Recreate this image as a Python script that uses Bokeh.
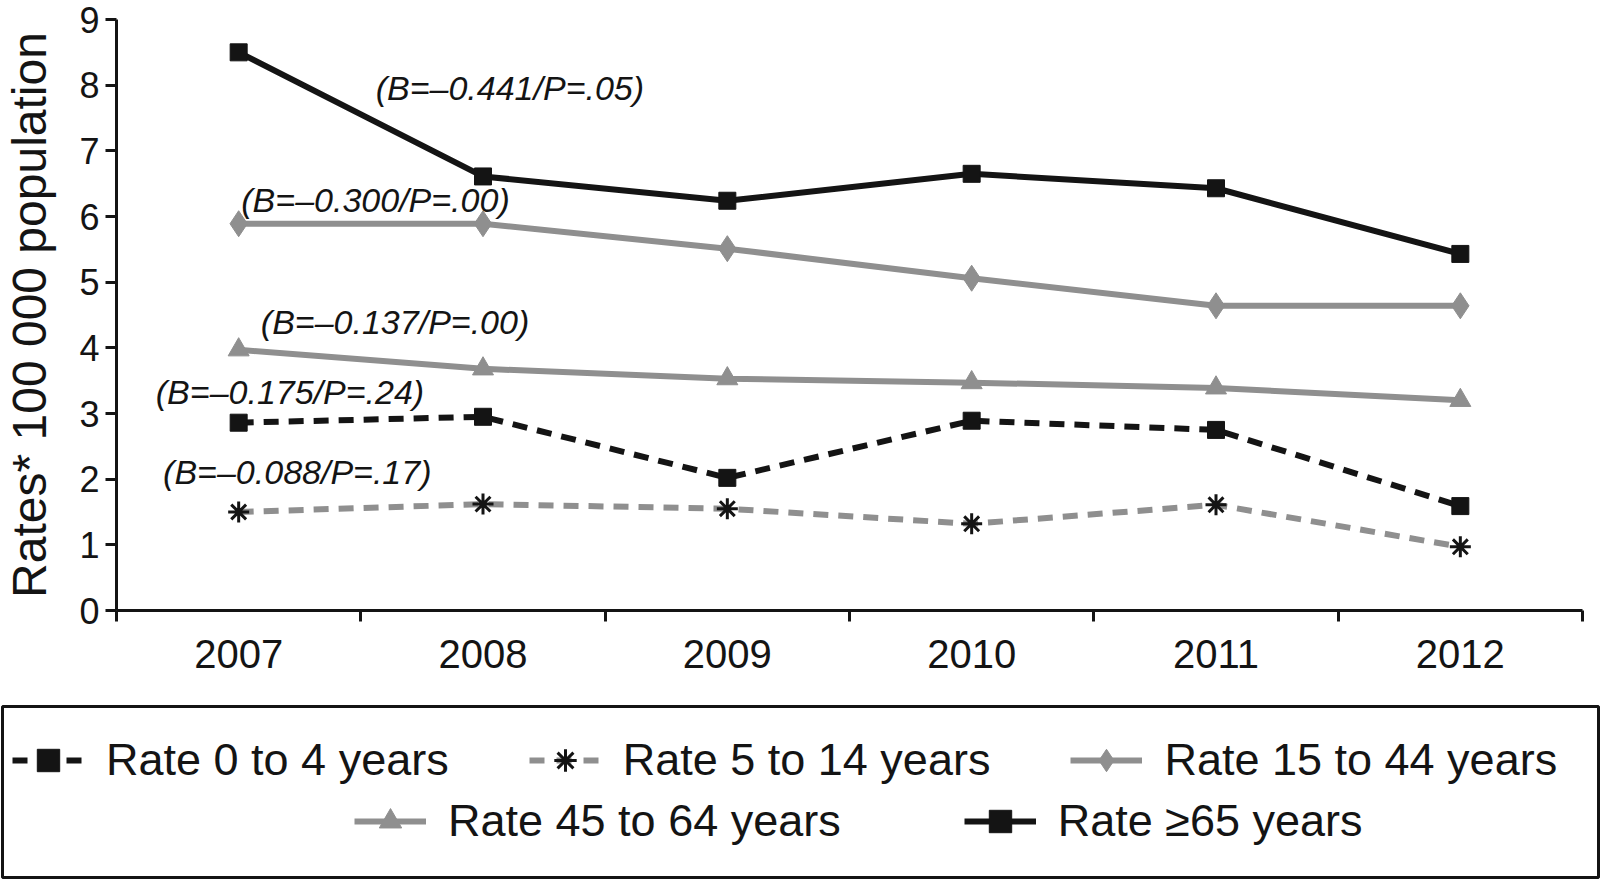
from bokeh.plotting import figure
from bokeh.models import ColumnDataSource, Range1d, FixedTicker, Legend, LegendItem
from bokeh.layouts import column, row
from bokeh.core.properties import value
from bokeh.embed import file_html
from bokeh.resources import INLINE

# ---------------- data ----------------
years = [2007, 2008, 2009, 2010, 2011, 2012]
year_labels = ["2007", "2008", "2009", "2010", "2011", "2012"]
rate_0_4 = [2.86, 2.95, 2.02, 2.89, 2.75, 1.59]
rate_5_14 = [1.50, 1.62, 1.55, 1.32, 1.61, 0.97]
rate_15_44 = [5.89, 5.89, 5.51, 5.06, 4.64, 4.64]
rate_45_64 = [3.97, 3.68, 3.53, 3.47, 3.39, 3.20]
rate_65 = [8.50, 6.61, 6.24, 6.65, 6.43, 5.43]

series_names = ["Rate 0 to 4 years", "Rate 5 to 14 years", "Rate 15 to 44 years",
                "Rate 45 to 64 years", "Rate \u226565 years"]

ann_text = ["(B=\u20130.441/P=.05)", "(B=\u20130.300/P=.00)", "(B=\u20130.137/P=.00)",
            "(B=\u20130.175/P=.24)", "(B=\u20130.088/P=.17)"]
ann_x = [2008.11, 2007.56, 2007.64, 2007.21, 2007.24]
ann_y = [7.95, 6.25, 4.39, 3.33, 2.11]

y_ticks = [0, 1, 2, 3, 4, 5, 6, 7, 8, 9]
y_title = "Rates* 100 000 population"

# ---------------- style ----------------
BLACK = "#141414"
GRAY = "#8f8f8f"
FONT = "Liberation Sans"
DASH = "15 10"
LW = 6

PAGE_W = 1600
FRAME_L, FRAME_R, FRAME_T, FRAME_B = 122, 1590, 27, 618
MAIN_H = 704

p = figure(width=PAGE_W, height=MAIN_H,
           x_range=Range1d(years[0] - 0.5, years[-1] + 0.5), y_range=Range1d(y_ticks[0], y_ticks[-1]),
           output_backend="svg", toolbar_location=None,
           min_border_left=FRAME_L - 8, min_border_right=PAGE_W + 8 - FRAME_R,
           min_border_top=FRAME_T - 8, min_border_bottom=MAIN_H - (FRAME_B - 8))
p.outline_line_color = None
p.grid.visible = False
p.background_fill_color = "white"
p.border_fill_color = "white"

# x axis
xa = p.xaxis[0]
xa.ticker = FixedTicker(ticks=years, minor_ticks=[y - 0.5 for y in years] + [years[-1] + 0.5])
xa.major_label_overrides = {y: l for y, l in zip(years, year_labels)}
xa.major_tick_line_color = None
xa.minor_tick_line_color = BLACK
xa.minor_tick_line_width = 3
xa.minor_tick_out = 11
xa.minor_tick_in = 0
xa.axis_line_width = 3
xa.axis_line_color = BLACK
xa.major_label_text_font = FONT
xa.major_label_text_font_size = "40px"
xa.major_label_text_color = BLACK
xa.major_label_standoff = 18

# y axis
ya = p.yaxis[0]
ya.ticker = FixedTicker(ticks=y_ticks, minor_ticks=[])
ya.major_tick_line_color = BLACK
ya.major_tick_line_width = 3
ya.major_tick_out = 11
ya.major_tick_in = 0
ya.minor_tick_line_color = None
ya.axis_line_width = 3
ya.axis_line_color = BLACK
ya.major_label_text_font = FONT
ya.major_label_text_font_size = "36px"
ya.major_label_text_color = BLACK
ya.major_label_standoff = 6
ya.axis_label = y_title
ya.axis_label_text_font = FONT
ya.axis_label_text_font_size = "48px"
ya.axis_label_text_font_style = "normal"
ya.axis_label_text_color = BLACK
ya.axis_label_standoff = 20

# series
p.line(years, rate_65, line_color=BLACK, line_width=LW)
p.scatter(years, rate_65, marker="square", size=17, fill_color=BLACK, line_color=BLACK)

p.line(years, rate_15_44, line_color=GRAY, line_width=LW)
p.scatter(years, rate_15_44, marker="diamond", size=26, fill_color=GRAY, line_color=GRAY)

p.line(years, rate_45_64, line_color=GRAY, line_width=LW)
p.scatter(years, rate_45_64, marker="triangle", size=21, fill_color=GRAY, line_color=GRAY)

p.line(years, rate_0_4, line_color=BLACK, line_width=LW, line_dash=DASH)
p.scatter(years, rate_0_4, marker="square", size=17, fill_color=BLACK, line_color=BLACK)

p.line(years, rate_5_14, line_color=GRAY, line_width=LW, line_dash=DASH)
p.scatter(years, rate_5_14, marker="asterisk", size=21, line_color=BLACK, line_width=3)

# annotations
ann_src = ColumnDataSource(dict(x=ann_x, y=ann_y, t=ann_text))
p.text(x="x", y="y", text="t", source=ann_src, text_align="center", text_baseline="middle",
       text_font=value(FONT), text_font_style="italic", text_font_size="34px", text_color=BLACK)

# ---------------- legend box ----------------
LEG_H = 175
lf = figure(width=PAGE_W, height=LEG_H, x_range=Range1d(0, 1), y_range=Range1d(0, 1),
            x_axis_location=None, y_axis_location=None,
            output_backend="svg", toolbar_location=None, min_border=2)
lf.grid.visible = False
lf.outline_line_color = BLACK
lf.outline_line_width = 3
lf.background_fill_color = "white"
lf.border_fill_color = "white"

# legend sample renderers (their points sit outside the visible range)
off = lambda: ColumnDataSource(dict(x=[-10.0], y=[-10.0]))
LEG_DASH = "15 12"
l04 = lf.line("x", "y", source=off(), line_color=BLACK, line_width=LW, line_dash=LEG_DASH)
s04 = lf.scatter("x", "y", source=off(), marker="square", size=17, fill_color=BLACK, line_color=BLACK)
l514 = lf.line("x", "y", source=off(), line_color=GRAY, line_width=LW, line_dash=LEG_DASH)
s514 = lf.scatter("x", "y", source=off(), marker="asterisk", size=21, line_color=BLACK, line_width=3)
l1544 = lf.line("x", "y", source=off(), line_color=GRAY, line_width=LW)
s1544 = lf.scatter("x", "y", source=off(), marker="diamond", size=26, fill_color=GRAY, line_color=GRAY)
l4564 = lf.line("x", "y", source=off(), line_color=GRAY, line_width=LW)
s4564 = lf.scatter("x", "y", source=off(), marker="triangle", size=21, fill_color=GRAY, line_color=GRAY)
l65 = lf.line("x", "y", source=off(), line_color=BLACK, line_width=LW)
s65 = lf.scatter("x", "y", source=off(), marker="square", size=17, fill_color=BLACK, line_color=BLACK)

def mk_legend(items, loc, spacing):
    return Legend(items=items, orientation="horizontal", location=loc,
                  label_text_font=FONT, label_text_font_size="45px", label_text_color=BLACK,
                  glyph_width=72, glyph_height=56, label_height=40, label_standoff=22,
                  spacing=spacing, padding=0, margin=0,
                  border_line_color=None, background_fill_alpha=0)

row1 = [LegendItem(label=series_names[0], renderers=[l04, s04]),
        LegendItem(label=series_names[1], renderers=[l514, s514]),
        LegendItem(label=series_names[2], renderers=[l1544, s1544])]
row2 = [LegendItem(label=series_names[3], renderers=[l4564, s4564]),
        LegendItem(label=series_names[4], renderers=[l65, s65])]

lf.add_layout(mk_legend(row1, (10, 89), 80))
lf.add_layout(mk_legend(row2, (352, 28), 123))

layout = column(p, row(lf), spacing=0)
open("out.html", "w").write(file_html(layout, INLINE))
